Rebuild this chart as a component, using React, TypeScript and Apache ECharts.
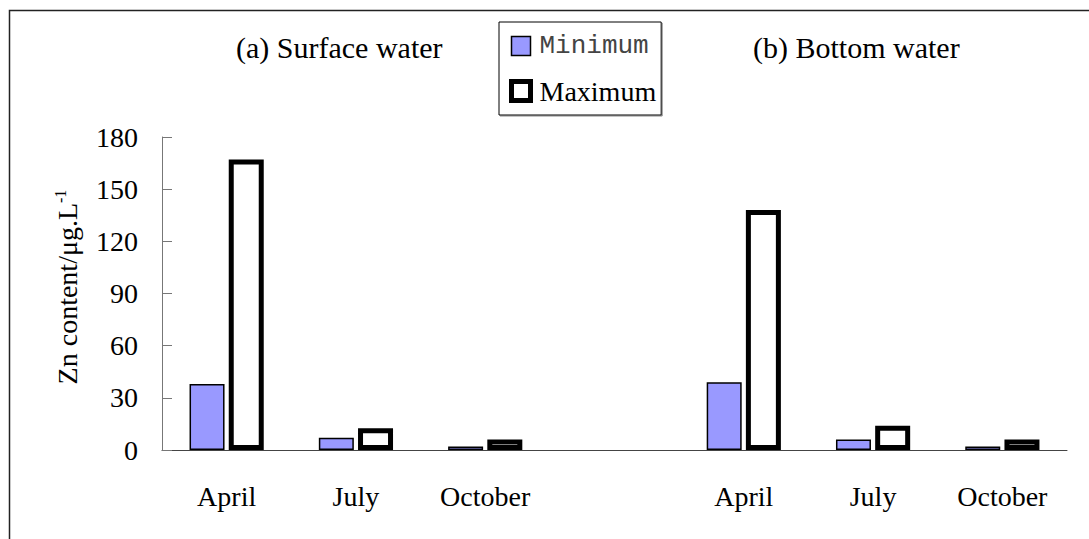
import React, { useEffect, useRef } from "react";
import * as echarts from "echarts";

const categories = ["April", "July", "October", "", "April", "July", "October"];
const surfaceMin = [38, 7, 2];
const surfaceMax = [167, 12.5, 6];
const bottomMin = [39, 6, 2];
const bottomMax = [138, 14, 6];
const yTicks = { min: 0, max: 180, interval: 30 };
const panelTitles = ["(a) Surface water", "(b) Bottom water"];
const seriesNames = ["Minimum", "Maximum"];

const SERIF = "'Liberation Serif', 'Times New Roman', serif";
const MONO = "'Liberation Mono', 'Courier New', monospace";

export default function App() {
  const ref = useRef<HTMLDivElement>(null);
  useEffect(() => {
    document.body.style.margin = "0";
    const chart = echarts.init(ref.current!, null, { renderer: "svg" });
    const minData = [...surfaceMin, null, ...bottomMin];
    const maxData = [...surfaceMax, null, ...bottomMax];
    chart.setOption({
      animation: false,
      backgroundColor: "#ffffff",
      title: [
        {
          text: panelTitles[0],
          left: 236,
          top: 32,
          padding: 0,
          textStyle: { fontFamily: SERIF, fontSize: 30, fontWeight: "normal", color: "#000" },
        },
        {
          text: panelTitles[1],
          left: 753,
          top: 32,
          padding: 0,
          textStyle: { fontFamily: SERIF, fontSize: 30, fontWeight: "normal", color: "#000" },
        },
      ],
      legend: {
        orient: "vertical",
        left: 499,
        top: 22,
        padding: [11, 5, 10, 10],
        itemGap: 18,
        itemWidth: 19,
        itemHeight: 19,
        icon: "rect",
        borderColor: "#000",
        borderWidth: 1,
        backgroundColor: "#fff",
        shadowColor: "#888",
        shadowOffsetX: 1,
        shadowOffsetY: 1,
        shadowBlur: 0,
        data: [
          {
            name: seriesNames[0],
            itemStyle: { color: "#9999ff", borderColor: "#000", borderWidth: 1.5 },
            textStyle: { fontFamily: MONO, fontSize: 26, color: "#444", padding: [0, 0, 0, 4] },
          },
          {
            name: seriesNames[1],
            itemStyle: { color: "#fff", borderColor: "#000", borderWidth: 5 },
            textStyle: { fontFamily: SERIF, fontSize: 28, color: "#000", padding: [0, 0, 0, 4] },
          },
        ],
      },
      grid: { left: 162, right: 22, top: 137, bottom: 89 },
      xAxis: {
        type: "category",
        data: categories,
        axisLine: { lineStyle: { color: "#444", width: 1 } },
        axisTick: { inside: true, length: 10, lineStyle: { color: "#444" } },
        axisLabel: { fontFamily: SERIF, fontSize: 28, color: "#000", margin: 32, interval: 0 },
        splitLine: { show: false },
      },
      yAxis: {
        type: "value",
        min: yTicks.min,
        max: yTicks.max,
        interval: yTicks.interval,
        axisLine: { show: true, lineStyle: { color: "#777", width: 1 } },
        axisTick: { show: true, inside: true, length: 10, lineStyle: { color: "#777" } },
        axisLabel: { fontFamily: SERIF, fontSize: 28, color: "#000", margin: 24 },
        splitLine: { show: false },
      },
      graphic: [
        {
          type: "rect",
          silent: true,
          shape: { x: 9.5, y: 10.5, width: 1200, height: 700 },
          style: { fill: "none", stroke: "#222", lineWidth: 1.5 },
          z: 100,
        },
        {
          type: "text",
          x: 67,
          y: 287,
          rotation: Math.PI / 2,
          style: {
            text: "{a|Zn content/μg.L}{s|-1}",
            align: "center",
            verticalAlign: "middle",
            rich: {
              a: { fontFamily: SERIF, fontSize: 28, color: "#000", lineHeight: 30 },
              s: { fontFamily: SERIF, fontSize: 16, color: "#000", verticalAlign: "top", lineHeight: 30 },
            },
          },
        },
      ],
      series: [
        {
          name: seriesNames[0],
          type: "bar",
          data: minData,
          barWidth: 35,
          barGap: "12%",
          itemStyle: { color: "#9999ff", borderColor: "#000", borderWidth: 1.5 },
        },
        {
          name: seriesNames[1],
          type: "bar",
          data: maxData,
          barWidth: 35,
          barGap: "12%",
          itemStyle: { color: "#fff", borderColor: "#000", borderWidth: 5 },
        },
      ],
    });
    return () => chart.dispose();
  }, []);
  return <div ref={ref} style={{ width: 1089, height: 539 }} />;
}
